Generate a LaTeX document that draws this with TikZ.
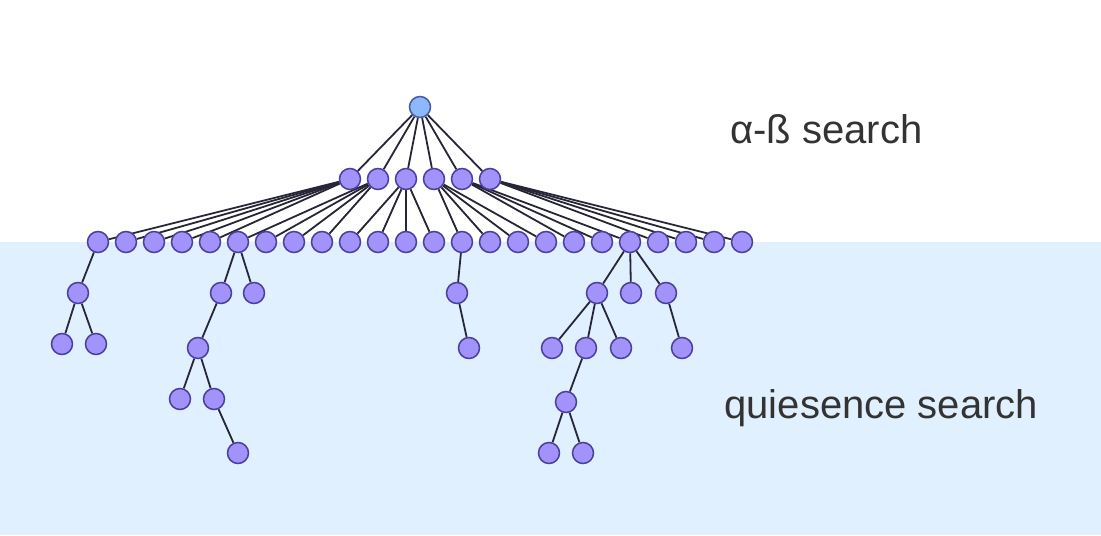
\documentclass[tikz,border=0pt]{standalone}
\usepackage{fontspec}
\setmainfont{Liberation Sans}
\usepackage{tikz}
\usetikzlibrary{backgrounds}

\definecolor{band}{HTML}{E0F0FE}
\definecolor{nodefill}{HTML}{A193FA}
\definecolor{nodeline}{HTML}{4B3F9E}
\definecolor{rootfill}{HTML}{8DB8FA}
\definecolor{rootline}{HTML}{4A5AA6}
\definecolor{edgecol}{HTML}{262636}
\definecolor{textcol}{HTML}{333333}

\begin{document}
\begin{tikzpicture}[x=0.5pt, y=-0.5pt,
        posnode/.style={circle, draw=nodeline, fill=nodefill, line width=0.75pt, minimum size=10.5pt, inner sep=0pt},
        rootnode/.style={posnode, draw=rootline, fill=rootfill},
        edge/.style={draw=edgecol, line width=0.9pt},
        lbl/.style={text=textcol, font=\fontsize{20}{24}\selectfont, anchor=base west, inner sep=0pt}]
        \useasboundingbox (0,0) rectangle (1101,535);
        \begin{scope}[on background layer]
            \fill[band] (0,242) rectangle (1101,535);
        \end{scope}
        % root, first and second ply
        \node[rootnode] (r) at (420,107) {};
        \foreach \i/\x in {1/350,2/378,3/406,4/434,5/462,6/490}
            \node[posnode] (a\i) at (\x,179) {};
        \foreach \i in {1,...,24}
            \node[posnode] (b\i) at ({70+28*\i},242) {};
        % quiescence nodes
        \node[posnode] (q1) at (78,293) {};
        \node[posnode] (q2) at (62,344) {};
        \node[posnode] (q3) at (96,344) {};
        \node[posnode] (q4) at (221,293) {};
        \node[posnode] (q5) at (254,293) {};
        \node[posnode] (q6) at (198,348) {};
        \node[posnode] (q7) at (180,399) {};
        \node[posnode] (q8) at (214,399) {};
        \node[posnode] (q9) at (238,453) {};
        \node[posnode] (q10) at (457,293) {};
        \node[posnode] (q11) at (469,348) {};
        \node[posnode] (q12) at (597,293) {};
        \node[posnode] (q13) at (631,293) {};
        \node[posnode] (q14) at (666,293) {};
        \node[posnode] (q15) at (552,348) {};
        \node[posnode] (q16) at (586,348) {};
        \node[posnode] (q17) at (621,348) {};
        \node[posnode] (q18) at (682,348) {};
        \node[posnode] (q19) at (566,402) {};
        \node[posnode] (q20) at (549,453) {};
        \node[posnode] (q21) at (583,453) {};
        \begin{scope}[on background layer]
            \foreach \i in {1,...,6}
                \draw[edge] (r) -- (a\i);
            \foreach \p/\c in {1/1,1/2,1/3,1/4,1/5,2/6,2/7,2/8,2/9,3/10,3/11,3/12,3/13,4/14,4/15,4/16,4/17,5/18,5/19,5/20,6/21,6/22,6/23,6/24}
                \draw[edge] (a\p) -- (b\c);
            \foreach \u/\v in {b1/q1,q1/q2,q1/q3,b6/q4,b6/q5,q4/q6,q6/q7,q6/q8,q8/q9,b14/q10,q10/q11,b20/q12,b20/q13,b20/q14,q12/q15,q12/q16,q12/q17,q14/q18,q16/q19,q19/q20,q19/q21}
                \draw[edge] (\u) -- (\v);
        \end{scope}
        \node[lbl] (ab) at (730,143) {α-ß search};
        \node[lbl] (qs) at (724,418) {quiesence search};
    \end{tikzpicture}
\end{document}
